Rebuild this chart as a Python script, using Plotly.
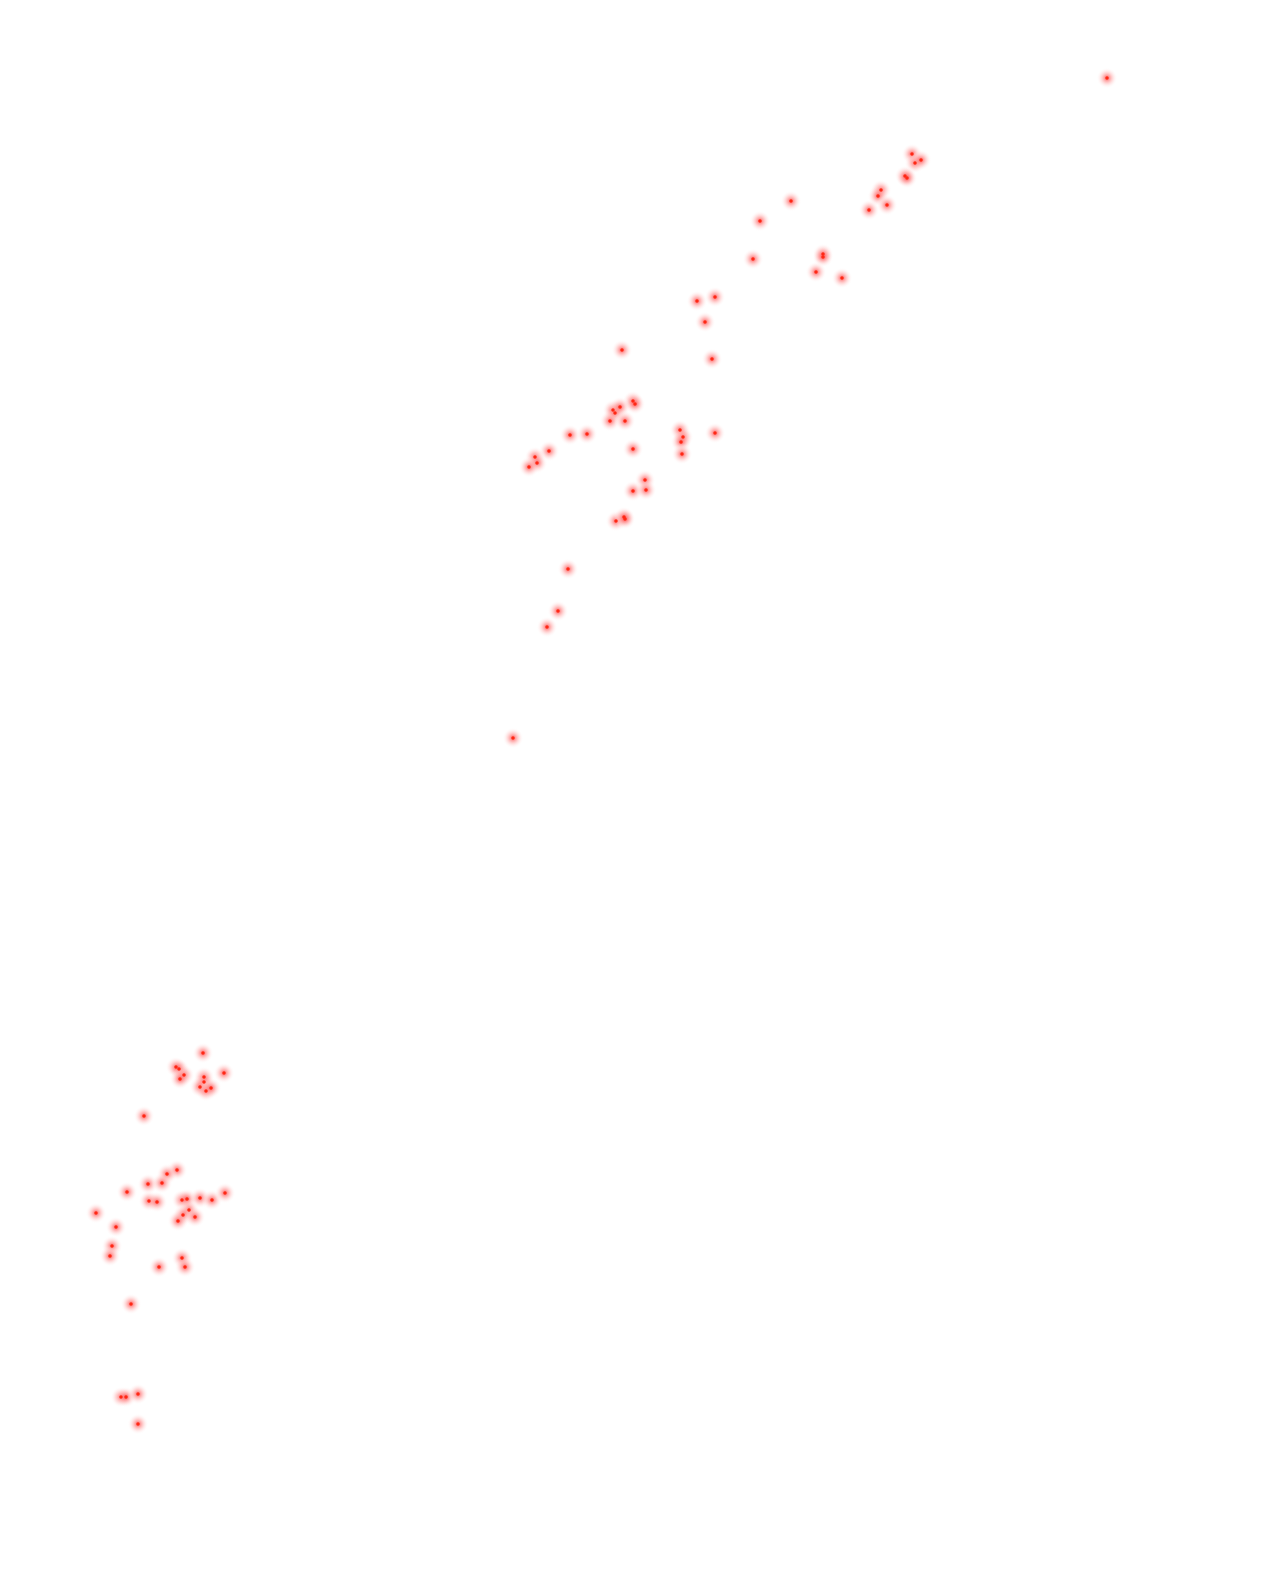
import plotly.graph_objects as go

# Point positions (horizontal value, vertical value)
x_vals = [
    1107, 912, 915, 921, 905, 907, 881, 878, 887, 869, 842,
    791, 760, 823, 823, 816, 753, 715, 697,
    705, 712, 622,
    633, 635, 613, 615, 620, 610, 625, 570, 587,
    680, 683, 681, 682, 715,
    549, 535, 537, 529, 633,
    645, 633, 646, 616, 624, 625,
    568, 558, 547, 513,
    203, 176, 179, 184, 180, 204, 204, 200, 206, 211, 224,
    144, 177, 167, 148, 162, 127, 149, 157, 182, 187, 200, 212, 225,
    189, 183, 178, 195, 96, 116, 112, 110, 159, 182, 185,
    131, 121, 126, 138, 138,
]
y_vals = [
    78, 154, 163, 160, 176, 178, 190, 196, 205, 210, 278,
    201, 221, 254, 257, 272, 259, 297, 301,
    322, 359, 350,
    401, 404, 410, 413, 407, 421, 421, 435, 434,
    430, 437, 442, 454, 433,
    451, 457, 463, 467, 449,
    480, 491, 490, 521, 517, 519,
    569, 611, 627, 738,
    1053, 1067, 1069, 1075, 1079, 1077, 1082, 1087, 1091, 1088, 1073,
    1116, 1170, 1174, 1184, 1183, 1192, 1201, 1202, 1200, 1199, 1198, 1200, 1193,
    1210, 1215, 1221, 1217, 1213, 1227, 1246, 1256, 1267, 1258, 1267,
    1304, 1397, 1397, 1394, 1424,
]

fig = go.Figure()
# soft halo: gradient from pink centre to transparent edge
fig.add_trace(go.Scatter(
    x=x_vals, y=y_vals, mode="markers", hoverinfo="skip",
    marker=dict(size=21, color="rgba(255,255,255,0)", line=dict(width=0),
                gradient=dict(type="radial", color="rgba(255,70,70,0.9)")),
))
# core
fig.add_trace(go.Scatter(
    x=x_vals, y=y_vals, mode="markers",
    marker=dict(size=3.5, color="rgb(255,40,20)", line=dict(width=0)),
))

fig.update_layout(
    width=1277, height=1580,
    margin=dict(l=0, r=0, t=0, b=0),
    paper_bgcolor="white", plot_bgcolor="white",
    showlegend=False,
    xaxis=dict(range=[8, 1285], visible=False, fixedrange=True),
    yaxis=dict(range=[1588, 8], visible=False, fixedrange=True),
)
fig.write_html("out.html")
